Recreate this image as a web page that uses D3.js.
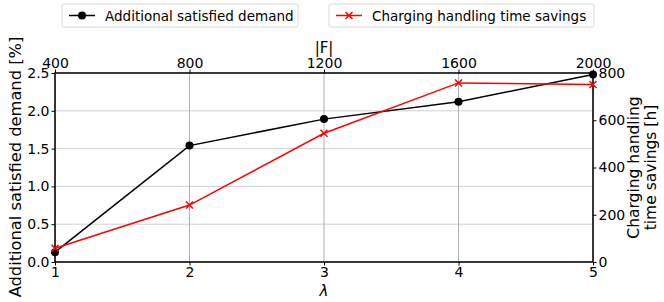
<!DOCTYPE html>
<html>
<head>
<meta charset="utf-8">
<script src="https://cdn.jsdelivr.net/npm/d3@7"></script>
<style>
  body { margin: 0; background: #fff; }
  text { font-family: "DejaVu Sans", sans-serif; fill: #000; }
</style>
</head>
<body>
<div class="chart"></div>
<script>
// data
var lambdas = [1, 2, 3, 4, 5];
var fleetSizes = [400, 800, 1200, 1600, 2000];
var demand = [0.13, 1.54, 1.89, 2.12, 2.48];
var timeSavings = [58, 241, 545, 758, 751];
var leftTicks = [0, 0.5, 1.0, 1.5, 2.0, 2.5];
var rightTicks = [0, 200, 400, 600, 800];

var svgWidth = 664;
var svgHeight = 302;

var margin = { top: 73, right: 71, bottom: 40, left: 55 };
var width = svgWidth - margin.left - margin.right;
var height = svgHeight - margin.top - margin.bottom;

var svg = d3.select(".chart")
  .append("svg")
  .attr("width", svgWidth)
  .attr("height", svgHeight);

var chartGroup = svg.append("g")
  .attr("transform", `translate(${margin.left}, ${margin.top})`);

var xScale = d3.scaleLinear().domain([1, 5]).range([0, width]);
var xTopScale = d3.scaleLinear().domain([400, 2000]).range([0, width]);
var yLeft = d3.scaleLinear().domain([0, 2.5]).range([height, 0]);
var yRight = d3.scaleLinear().domain([0, 800]).range([height, 0]);

// grid
chartGroup.append("g").selectAll("line")
  .data(leftTicks)
  .enter().append("line")
  .attr("x1", 0).attr("x2", width)
  .attr("y1", d => yLeft(d)).attr("y2", d => yLeft(d))
  .attr("stroke", "#d0d0d0").attr("stroke-width", 1);

chartGroup.append("g").selectAll("line")
  .data(lambdas)
  .enter().append("line")
  .attr("x1", d => xScale(d)).attr("x2", d => xScale(d))
  .attr("y1", 0).attr("y2", height)
  .attr("stroke", "#b0b0b0").attr("stroke-width", 1);

function styleAxis(g) {
  g.selectAll("text").style("font-size", "14px").style("font-family", "DejaVu Sans");
  g.selectAll(".tick line").attr("stroke", "#000");
  g.select(".domain").remove();
}

var bottomAxis = d3.axisBottom(xScale).tickValues(lambdas).tickFormat(d3.format("d")).tickSize(3.5).tickPadding(2);
var topAxis = d3.axisTop(xTopScale).tickValues(fleetSizes).tickFormat(d3.format("d")).tickSize(3.5).tickPadding(2);
var leftAxis = d3.axisLeft(yLeft).tickValues(leftTicks).tickFormat(d3.format(".1f")).tickSize(3.5).tickPadding(2);
var rightAxis = d3.axisRight(yRight).tickValues(rightTicks).tickFormat(d3.format("d")).tickSize(3.5).tickPadding(2);

chartGroup.append("g").attr("transform", `translate(0, ${height})`).call(bottomAxis).call(styleAxis);
chartGroup.append("g").call(topAxis).call(styleAxis);
chartGroup.append("g").call(leftAxis).call(styleAxis);
chartGroup.append("g").attr("transform", `translate(${width}, 0)`).call(rightAxis).call(styleAxis);

// frame
chartGroup.append("rect")
  .attr("width", width).attr("height", height)
  .attr("fill", "none").attr("stroke", "#000").attr("stroke-width", 1.5);

// demand series (left axis)
var demandLine = d3.line().x((d, i) => xScale(lambdas[i])).y(d => yLeft(d));
chartGroup.append("path")
  .datum(demand)
  .attr("d", demandLine)
  .attr("fill", "none").attr("stroke", "#000").attr("stroke-width", 1.5);
chartGroup.selectAll(".dot")
  .data(demand)
  .enter().append("circle")
  .attr("class", "dot")
  .attr("cx", (d, i) => xScale(lambdas[i]))
  .attr("cy", d => yLeft(d))
  .attr("r", 4)
  .attr("fill", "#000");

// time savings series (right axis)
var savingsLine = d3.line().x((d, i) => xScale(lambdas[i])).y(d => yRight(d));
chartGroup.append("path")
  .datum(timeSavings)
  .attr("d", savingsLine)
  .attr("fill", "none").attr("stroke", "red").attr("stroke-width", 1.5);
var s = 3.5;
chartGroup.selectAll(".cross")
  .data(timeSavings)
  .enter().append("path")
  .attr("class", "cross")
  .attr("transform", (d, i) => `translate(${xScale(lambdas[i])}, ${yRight(d)})`)
  .attr("d", `M${-s},${-s}L${s},${s}M${-s},${s}L${s},${-s}`)
  .attr("stroke", "red").attr("stroke-width", 1.5);

// axis labels
svg.append("text")
  .attr("transform", `translate(${margin.left + width / 2}, 296)`)
  .attr("text-anchor", "middle")
  .style("font-size", "15px").style("font-style", "italic")
  .text("λ");

svg.append("text")
  .attr("transform", `translate(${margin.left + width / 2}, 53)`)
  .attr("text-anchor", "middle")
  .style("font-size", "15px")
  .text("|F|");

svg.append("text")
  .attr("transform", `translate(21, 167) rotate(-90)`)
  .attr("text-anchor", "middle")
  .style("font-size", "16.3px")
  .text("Additional satisfied demand [%]");

var rightLabel = svg.append("text")
  .attr("transform", `translate(639, ${margin.top + height / 2}) rotate(-90)`)
  .attr("text-anchor", "middle")
  .style("font-size", "15.5px");
rightLabel.append("tspan").attr("x", 0).attr("dy", 0).text("Charging handling");
rightLabel.append("tspan").attr("x", 0).attr("dy", 16.5).text("time savings [h]");

// legends
var legends = [
  { label: "Additional satisfied demand", color: "#000", mark: "dot", x: 62, w: 236 },
  { label: "Charging handling time savings", color: "red", mark: "cross", x: 329, w: 265 }
];
legends.forEach(function(l) {
  var g = svg.append("g").attr("transform", `translate(${l.x}, 4)`);
  g.append("rect").attr("width", l.w).attr("height", 23).attr("rx", 2)
    .attr("fill", "#fff").attr("stroke", "#d9d9d9");
  g.append("line").attr("x1", 7).attr("x2", 33).attr("y1", 11.5).attr("y2", 11.5)
    .attr("stroke", l.color).attr("stroke-width", 1.5);
  if (l.mark === "dot") {
    g.append("circle").attr("cx", 20).attr("cy", 11.5).attr("r", 4).attr("fill", l.color);
  } else {
    g.append("path").attr("transform", "translate(20, 11.5)")
      .attr("d", `M${-s},${-s}L${s},${s}M${-s},${s}L${s},${-s}`)
      .attr("stroke", l.color).attr("stroke-width", 1.5);
  }
  g.append("text").attr("x", 43).attr("y", 16.5)
    .style("font-size", "13.5px").text(l.label);
});
</script>
</body>
</html>
